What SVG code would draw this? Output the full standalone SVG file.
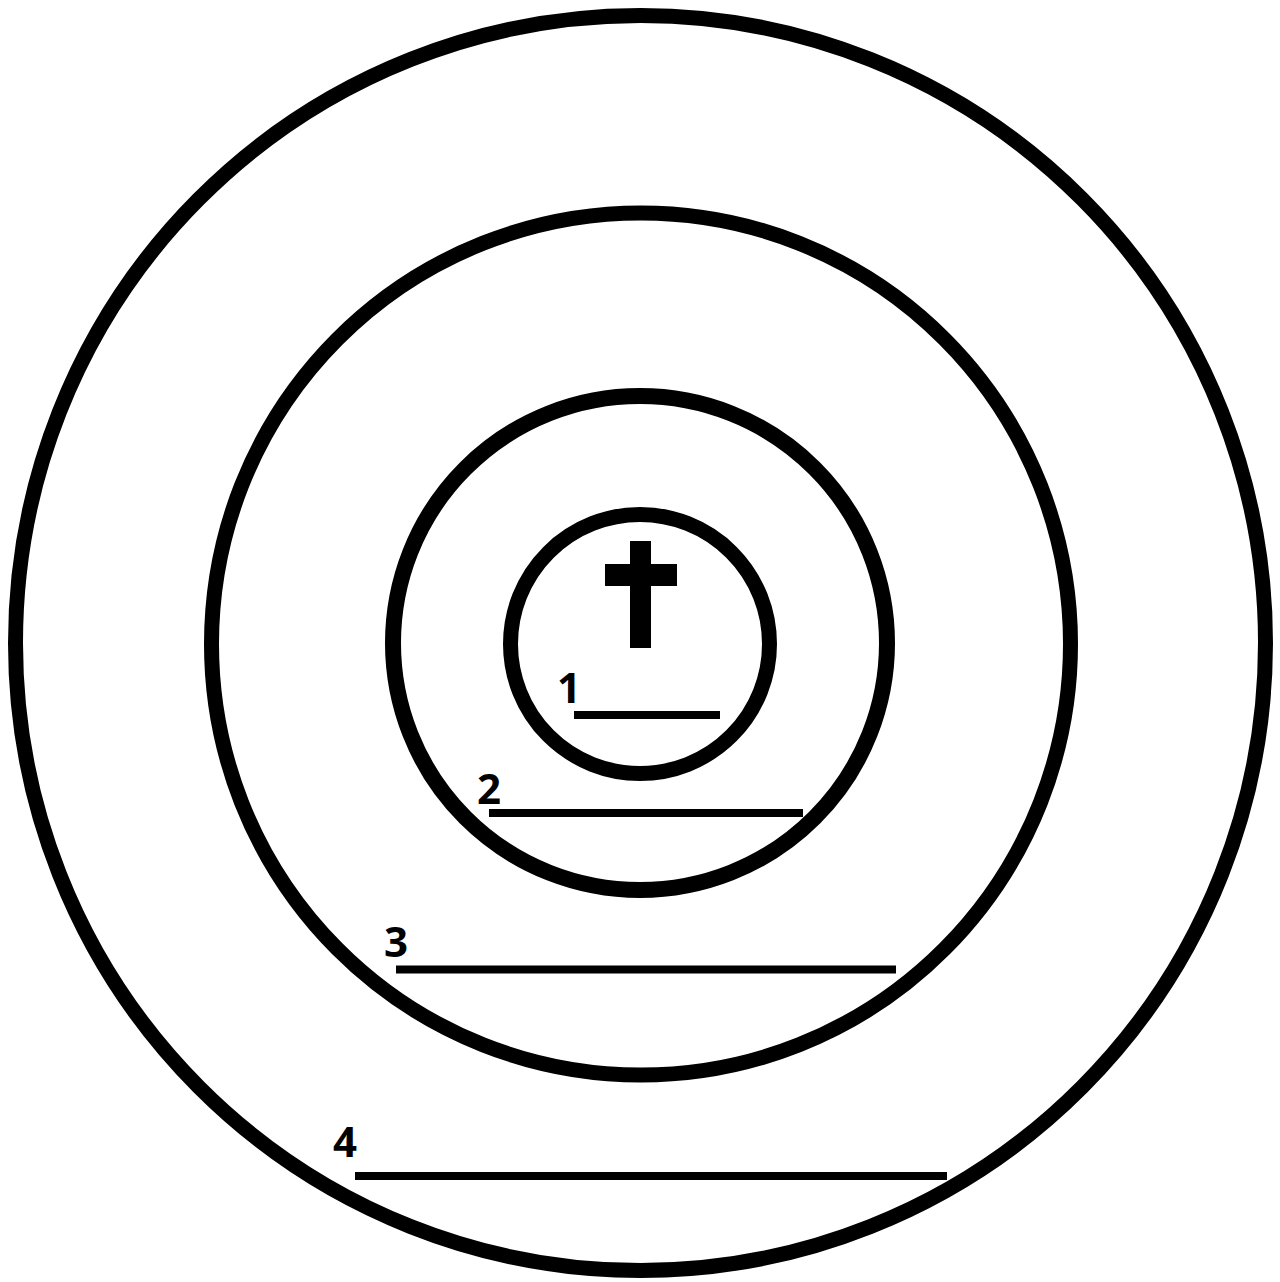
<svg xmlns="http://www.w3.org/2000/svg" width="1280" height="1282" viewBox="0 0 1280 1282">
<style>
.ring{fill:none;stroke:#000;stroke-width:15}
.blank{stroke:#000;stroke-width:8}
.num{font-family:"Open Sans","DejaVu Sans",sans-serif;font-weight:700;font-size:42px;fill:#000;text-anchor:middle}
</style>
<rect width="1280" height="1282" fill="#fff"/>
<g id="ring4"><ellipse class="ring" cx="640.5" cy="643" rx="625" ry="627.5"/></g>
<g id="ring3"><ellipse class="ring" cx="641" cy="644" rx="429.5" ry="431"/></g>
<g id="ring2"><circle class="ring" cx="640" cy="643" r="247" style="stroke-width:16"/></g>
<g id="ring1"><circle class="ring" cx="640" cy="644" r="129.5"/></g>
<g id="cross">
<rect x="630" y="541" width="21" height="107" fill="#000"/>
<rect x="605" y="564" width="72" height="22" fill="#000"/>
</g>
<g id="blank1"><text class="num" x="569" y="703">1</text><line class="blank" x1="574" y1="715" x2="720" y2="715"/></g>
<g id="blank2"><text class="num" x="489" y="804">2</text><line class="blank" x1="489" y1="813" x2="803" y2="813"/></g>
<g id="blank3"><text class="num" x="396" y="957">3</text><line class="blank" x1="396" y1="969.5" x2="896" y2="969.5"/></g>
<g id="blank4"><text class="num" x="345" y="1157">4</text><line class="blank" x1="355" y1="1176" x2="947" y2="1176"/></g>
</svg>
